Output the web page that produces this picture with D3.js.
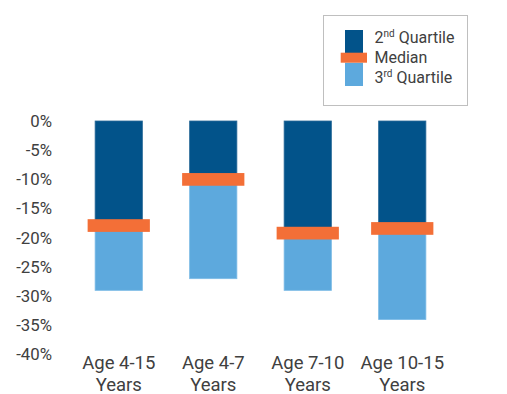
<!DOCTYPE html>
<html>
<head>
<meta charset="utf-8">
<script src="https://cdn.jsdelivr.net/npm/d3@7"></script>
<style>
  body { margin: 0; background: #fff; }
  text { font-family: Roboto, "Noto Sans", sans-serif; fill: #404040; }
</style>
</head>
<body>
<div id="chart"></div>
<script>
// Data
const categories = ["Age 4-15|Years", "Age 4-7|Years", "Age 7-10|Years", "Age 10-15|Years"];
const medians = [-17.9, -10.0, -19.2, -18.4];   // median (%), dark bar runs from 0 down to here
const q3Bottoms = [-29, -27, -29, -34];           // bottom of light (3rd quartile) bar
const yTicks = [0, -5, -10, -15, -20, -25, -30, -35, -40];
const legendLabels = [["2", "nd", " Quartile"], ["Median", "", ""], ["3", "rd", " Quartile"]];

const width = 507, height = 394;
const darkBlue = "#02538A", lightBlue = "#5DA9DD", orange = "#F36F37";

const svg = d3.select("#chart")
  .append("svg")
  .attr("width", width)
  .attr("height", height);

// scales
const x = d3.scaleBand()
  .domain(categories)
  .range([71.5, 449.5])
  .paddingInner(0.5)
  .paddingOuter(0.25);

const y = d3.scaleLinear()
  .domain([0, -40])
  .range([121, 354.6]);

// y axis (labels only)
const yAxis = d3.axisLeft(y)
  .tickValues(yTicks)
  .tickSize(0)
  .tickPadding(0)
  .tickFormat(d => d + "%");

svg.append("g")
  .attr("transform", "translate(52,0)")
  .call(yAxis)
  .call(g => g.select(".domain").remove())
  .selectAll("text")
  .style("font-size", "16.8px")
  .attr("fill", "#404040");

const medianH = 12.7;
const medianExtra = 7.5;

const bars = svg.append("g")
  .selectAll("g")
  .data(categories)
  .enter()
  .append("g");

// 3rd quartile (light)
bars.append("rect")
  .attr("x", d => x(d))
  .attr("width", x.bandwidth())
  .attr("y", (d, i) => y(medians[i]))
  .attr("height", (d, i) => y(q3Bottoms[i]) - y(medians[i]))
  .attr("fill", lightBlue)
  .attr("stroke", "#7dbbe6")
  .attr("stroke-width", 0.8);

// 2nd quartile (dark)
bars.append("rect")
  .attr("x", d => x(d))
  .attr("width", x.bandwidth())
  .attr("y", y(0))
  .attr("height", (d, i) => y(medians[i]) - y(0))
  .attr("fill", darkBlue)
  .attr("stroke", "#2a6a98")
  .attr("stroke-width", 0.8);

// median marker
bars.append("rect")
  .attr("x", d => x(d) - medianExtra)
  .attr("width", x.bandwidth() + 2 * medianExtra)
  .attr("y", (d, i) => y(medians[i]) - medianH / 2)
  .attr("height", medianH)
  .attr("fill", orange);

// x labels (two lines)
const xl = svg.append("g")
  .selectAll("text")
  .data(categories)
  .enter()
  .append("text")
  .attr("text-anchor", "middle")
  .style("font-size", "18.5px")
  .attr("transform", d => `translate(${x(d) + x.bandwidth() / 2},369)`);

xl.selectAll("tspan")
  .data(d => d.split("|"))
  .enter()
  .append("tspan")
  .attr("x", 0)
  .attr("dy", (d, i) => i === 0 ? 0 : 21.5)
  .text(d => d);

// legend
const legend = svg.append("g");
legend.append("rect")
  .attr("x", 323.5)
  .attr("y", 15.5)
  .attr("width", 144)
  .attr("height", 90)
  .attr("fill", "#fff")
  .attr("stroke", "#bfbfbf")
  .attr("stroke-width", 1);

legend.append("rect")
  .attr("x", 345).attr("y", 30).attr("width", 18).attr("height", 23)
  .attr("fill", darkBlue);
legend.append("rect")
  .attr("x", 345).attr("y", 62.7).attr("width", 18).attr("height", 23.3)
  .attr("fill", lightBlue);
legend.append("rect")
  .attr("x", 340.7).attr("y", 52.7).attr("width", 26.3).attr("height", 10)
  .attr("fill", orange);

const lt = legend.selectAll("text.leg")
  .data(legendLabels)
  .enter()
  .append("text")
  .attr("class", "leg")
  .attr("x", 374.5)
  .attr("y", (d, i) => 43.3 + i * 20)
  .style("font-size", "16px");

lt.append("tspan").text(d => d[0]);
lt.append("tspan")
  .style("font-size", "10px")
  .attr("dy", -6)
  .text(d => d[1]);
lt.append("tspan")
  .attr("dy", d => d[1] ? 6 : 0)
  .text(d => d[2]);
</script>
</body>
</html>
